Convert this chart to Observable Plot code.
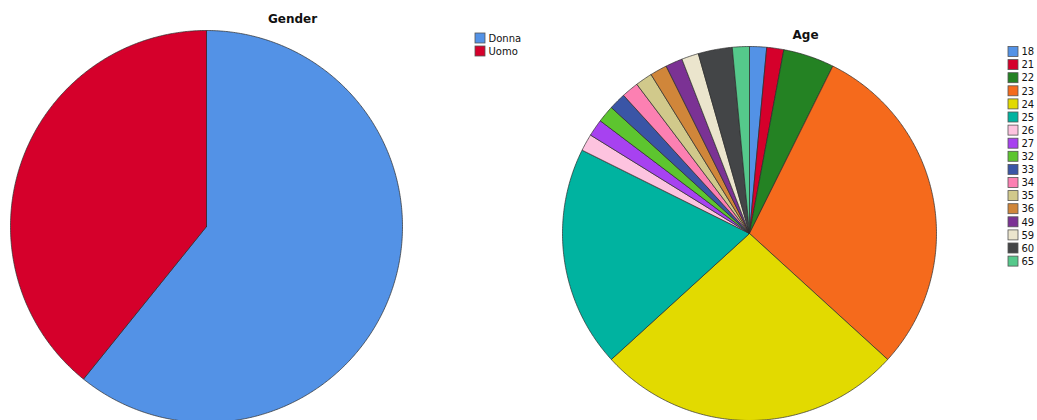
<!DOCTYPE html>
<html><head><meta charset="utf-8">
<script src="https://cdn.jsdelivr.net/npm/d3@7"></script>
<script src="https://cdn.jsdelivr.net/npm/@observablehq/plot@0.6"></script>
<style>body{margin:0;background:#fff}</style>
</head><body><div id="chart"></div>
<script>
const genderTitle = "Gender";
const genderCategories = ["Donna", "Uomo"];
const genderValues = [60.8, 39.2];
const genderColors = ["#5392e6", "#d5002b"];

const ageTitle = "Age";
const ageCategories = ["18","21","22","23","24","25","26","27","32","33","34","35","36","49","59","60","65"];
const ageValues = [1, 1, 3, 20, 18, 13, 1, 1, 1, 1, 1, 1, 1, 1, 1, 2, 1];
const ageColors = ["#5392e6","#d5002b","#248223","#f56a1c","#e2da00","#00b3a0","#fdc3df","#a742f0",
                   "#5dc52f","#3a55a6","#fc80b2","#d1c98b","#d0863a","#7b3294","#ebe5cd","#434547","#55c98b"];

const W = 1037, H = 420;

function pieSlices(cats, vals, cx, cy, r, group) {
  const total = d3.sum(vals);
  const pts = [];
  let a = 0;
  cats.forEach((c, i) => {
    const a0 = a, a1 = a + vals[i] / total * 2 * Math.PI;
    a = a1;
    const key = group + ":" + c;
    pts.push({key, cat: c, x: cx, y: cy});
    const n = Math.max(2, Math.ceil((a1 - a0) / (Math.PI / 360)));
    for (let k = 0; k <= n; k++) {
      const t = a0 + (a1 - a0) * k / n;
      pts.push({key, cat: c, x: cx + r * Math.sin(t), y: cy - r * Math.cos(t)});
    }
    pts.push({key, cat: c, x: cx, y: cy});
  });
  return pts;
}

function legendItems(cats, x0, y0, step) {
  return cats.map((c, i) => ({cat: c, x1: x0, x2: x0 + 10, y1: y0 + i * step, y2: y0 + i * step + 10,
                              tx: x0 + 13, ty: y0 + i * step + 5}));
}

const slices = [
  ...pieSlices(genderCategories, genderValues, 206, 226, 196, "g"),
  ...pieSlices(ageCategories, ageValues, 749, 233, 187, "a")
];
const legend = [
  ...legendItems(genderCategories, 475, 33, 13),
  ...legendItems(ageCategories, 1008, 46.5, 13.1)
];
const titles = [
  {text: genderTitle, x: 292, y: 19},
  {text: ageTitle, x: 805, y: 35}
];

const font = "DejaVu Sans, Verdana, sans-serif";

const chart = Plot.plot({
  width: W, height: H,
  margin: 0,
  x: {domain: [0, W], range: [0, W], axis: null},
  y: {domain: [0, H], range: [0, H], axis: null},
  color: {type: "ordinal", domain: [...genderCategories, ...ageCategories], range: [...genderColors, ...ageColors]},
  style: {background: "#fff", overflow: "hidden"},
  marks: [
    Plot.line(slices, {x: "x", y: "y", z: "key", fill: "cat", stroke: "#2b2b2b", strokeWidth: 0.7, strokeLinejoin: "round"}),
    Plot.rect(legend, {x1: "x1", x2: "x2", y1: "y1", y2: "y2", fill: "cat", stroke: "#555", strokeWidth: 0.8}),
    Plot.text(legend, {x: "tx", y: "ty", text: "cat", textAnchor: "start", fontSize: 10, fontFamily: font, fill: "#111"}),
    Plot.text(titles, {x: "x", y: "y", text: "text", fontSize: 12, fontWeight: "bold", fontFamily: font, fill: "#111"})
  ]
});
document.getElementById("chart").appendChild(chart);
</script>
</body></html>
